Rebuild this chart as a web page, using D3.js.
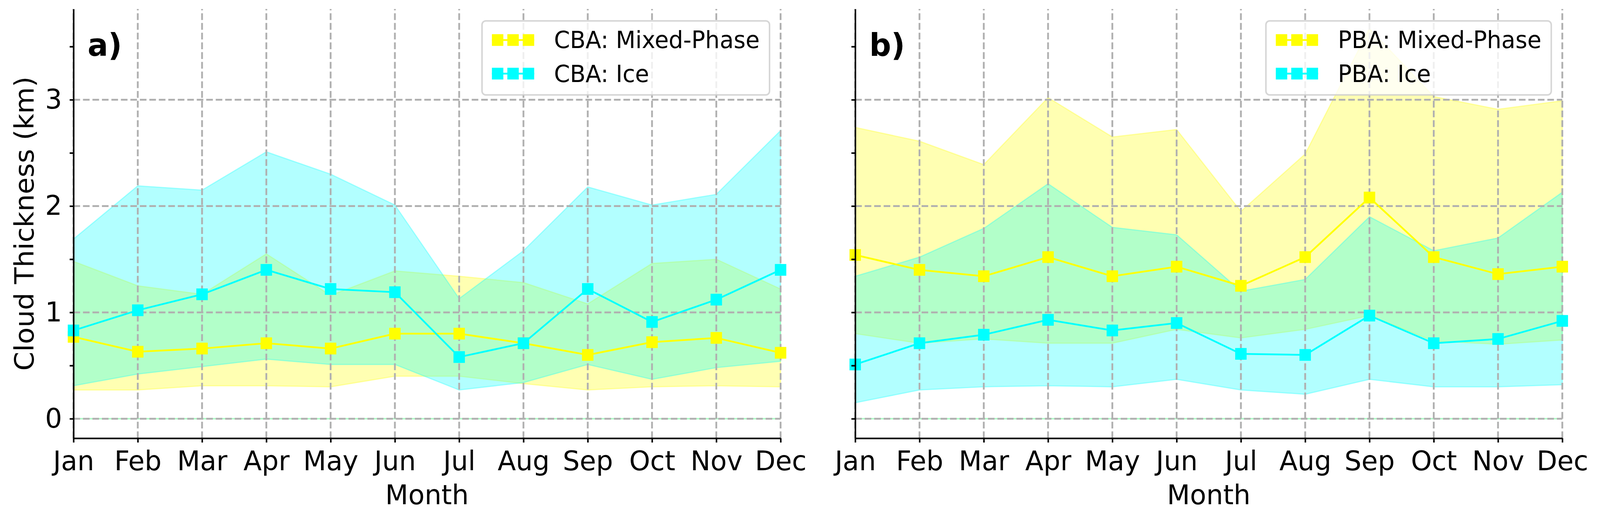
<!DOCTYPE html>
<html>
<head>
<meta charset="utf-8">
<script src="https://cdn.jsdelivr.net/npm/d3@7"></script>
<style>
html, body { margin: 0; padding: 0; width: 100%; height: 100%; overflow: hidden; background: #fff; }
#chart { display: block; width: 100vw; height: 100vh; }
svg text { font-family: "DejaVu Sans", sans-serif; }
</style>
</head>
<body>
<svg id="chart" viewBox="0 0 4202 1316" preserveAspectRatio="none"></svg>
<script>
var months = ["Jan", "Feb", "Mar", "Apr", "May", "Jun", "Jul", "Aug", "Sep", "Oct", "Nov", "Dec"];

// panel a) CBA
var cbaMixedMean = [0.77, 0.63, 0.66, 0.71, 0.66, 0.80, 0.80, 0.71, 0.60, 0.72, 0.76, 0.62];
var cbaMixedLow  = [0.27, 0.27, 0.31, 0.31, 0.30, 0.40, 0.40, 0.33, 0.27, 0.30, 0.31, 0.30];
var cbaMixedHigh = [1.48, 1.25, 1.17, 1.55, 1.16, 1.39, 1.34, 1.28, 1.08, 1.46, 1.50, 1.22];
var cbaIceMean   = [0.83, 1.02, 1.17, 1.40, 1.22, 1.19, 0.58, 0.71, 1.22, 0.91, 1.12, 1.40];
var cbaIceLow    = [0.31, 0.42, 0.49, 0.56, 0.51, 0.51, 0.27, 0.34, 0.51, 0.37, 0.48, 0.54];
var cbaIceHigh   = [1.69, 2.19, 2.15, 2.51, 2.30, 2.01, 1.13, 1.58, 2.18, 2.01, 2.11, 2.71];

// panel b) PBA
var pbaMixedMean = [1.54, 1.40, 1.34, 1.52, 1.34, 1.43, 1.25, 1.52, 2.08, 1.52, 1.36, 1.43];
var pbaMixedLow  = [0.80, 0.71, 0.75, 0.71, 0.71, 0.84, 0.76, 0.84, 0.97, 0.73, 0.70, 0.74];
var pbaMixedHigh = [2.74, 2.61, 2.39, 3.02, 2.65, 2.72, 1.95, 2.49, 3.67, 3.03, 2.91, 2.99];
var pbaIceMean   = [0.51, 0.71, 0.79, 0.93, 0.83, 0.90, 0.61, 0.60, 0.97, 0.71, 0.75, 0.92];
var pbaIceLow    = [0.15, 0.27, 0.30, 0.31, 0.30, 0.37, 0.27, 0.23, 0.37, 0.30, 0.30, 0.32];
var pbaIceHigh   = [1.34, 1.52, 1.79, 2.21, 1.80, 1.73, 1.20, 1.31, 1.90, 1.58, 1.70, 2.13];

var yTicks = [0, 0.5, 1, 1.5, 2, 2.5, 3, 3.5];
var yGrid = [0, 1, 2, 3];

var svg = d3.select("#chart");
var plotTop = 23, plotBottom = 1122;

// shared y, matplotlib-like 5% margins around the data (incl. zero baseline)
var allVals = [].concat(cbaMixedHigh, cbaIceHigh, pbaMixedHigh, pbaIceHigh, [0]);
var yMin = d3.min(allVals), yMax = d3.max(allVals), pad = 0.05 * (yMax - yMin);
var y = d3.scaleLinear()
    .domain([yMin - pad, yMax + pad])
    .range([plotBottom, plotTop]);

var gridColor = "#b0b0b0";

function drawPanel(p) {
    var x = d3.scalePoint().domain(months).range([p.left, p.right]);
    var g = svg.append("g");

    var area = d3.area()
        .x(function (d, i) { return x(months[i]); })
        .y0(function (d) { return y(d[0]); })
        .y1(function (d) { return y(d[1]); });

    // shaded ranges
    p.series.forEach(function (s) {
        g.append("path")
            .datum(d3.zip(s.low, s.high))
            .attr("d", area)
            .attr("fill", s.color)
            .attr("fill-opacity", 0.3)
            .attr("stroke", s.color)
            .attr("stroke-opacity", 0.3)
            .attr("stroke-width", 3);
    });

    // faint baseline at zero
    p.series.forEach(function (s) {
        g.append("line")
            .attr("x1", p.left).attr("x2", p.right)
            .attr("y1", y(0)).attr("y2", y(0))
            .attr("stroke", s.color)
            .attr("stroke-opacity", 0.3)
            .attr("stroke-width", 4);
    });

    // grid
    g.append("g").selectAll("line")
        .data(months)
        .join("line")
        .attr("x1", function (d) { return x(d); })
        .attr("x2", function (d) { return x(d); })
        .attr("y1", plotBottom)
        .attr("y2", plotTop)
        .attr("stroke", gridColor)
        .attr("stroke-width", 4.7)
        .attr("stroke-dasharray", "17.4,7.5");

    g.append("g").selectAll("line")
        .data(yGrid)
        .join("line")
        .attr("x1", p.left)
        .attr("x2", p.right)
        .attr("y1", function (d) { return y(d); })
        .attr("y2", function (d) { return y(d); })
        .attr("stroke", gridColor)
        .attr("stroke-width", 4.7)
        .attr("stroke-dasharray", "17.4,7.5");

    // mean lines with square markers
    var line = d3.line()
        .x(function (d, i) { return x(months[i]); })
        .y(function (d) { return y(d); });

    p.series.forEach(function (s) {
        g.append("path")
            .datum(s.mean)
            .attr("d", line)
            .attr("fill", "none")
            .attr("stroke", s.color)
            .attr("stroke-width", 4.5);

        g.append("g").selectAll("rect")
            .data(s.mean)
            .join("rect")
            .attr("x", function (d, i) { return x(months[i]) - 15; })
            .attr("y", function (d) { return y(d) - 15; })
            .attr("width", 30)
            .attr("height", 30)
            .attr("fill", s.color);
    });

    // axes
    var xAxis = g.append("g")
        .attr("transform", "translate(0," + plotBottom + ")")
        .call(d3.axisBottom(x).tickSize(11).tickPadding(21).tickSizeOuter(0));

    var yAxis = g.append("g")
        .attr("transform", "translate(" + p.left + ",0)")
        .call(d3.axisLeft(y)
            .tickValues(yTicks)
            .tickFormat(function (d) { return (p.yLabels && Number.isInteger(d)) ? d : ""; })
            .tickSize(10).tickPadding(20).tickSizeOuter(0));

    [xAxis, yAxis].forEach(function (ax) {
        ax.attr("font-size", 70).attr("font-family", "DejaVu Sans");
        ax.select(".domain").attr("stroke-width", 4);
        ax.selectAll(".tick line").attr("stroke-width", 4);
        ax.selectAll(".tick text").attr("fill", "#000");
    });

    // x label
    g.append("text")
        .attr("x", (p.left + p.right) / 2)
        .attr("y", 1291)
        .attr("text-anchor", "middle")
        .style("font-size", "70px")
        .text("Month");

    if (p.yLabels) {
        g.append("text")
            .attr("transform", "translate(88," + ((plotTop + plotBottom) / 2) + ") rotate(-90)")
            .attr("text-anchor", "middle")
            .style("font-size", "70px")
            .text("Cloud Thickness (km)");
    }

    // panel tag
    g.append("text")
        .attr("x", p.left + 37)
        .attr("y", 143)
        .style("font-size", "80px")
        .style("font-weight", "bold")
        .text(p.tag);

    // legend
    var leg = g.append("g");
    var box = leg.append("rect");
    var widest = 0;
    p.series.forEach(function (s, i) {
        var row = leg.append("g").attr("transform", "translate(0," + (49 + i * 86) + ")");
        row.append("line")
            .attr("x1", 26).attr("x2", 137)
            .attr("stroke", s.color).attr("stroke-width", 4.5);
        [15, 55.5, 96].forEach(function (cx) {
            row.append("rect")
                .attr("x", 26 + cx - 15).attr("y", -15)
                .attr("width", 30).attr("height", 30)
                .attr("fill", s.color);
        });
        var t = leg.append("text")
            .attr("x", 189)
            .attr("y", 70 + i * 87)
            .style("font-size", "60px")
            .text(s.name);
        widest = Math.max(widest, t.node().getComputedTextLength());
    });
    var boxW = 189 + widest + 26, boxH = 189.5;
    box.attr("width", boxW).attr("height", boxH)
        .attr("rx", 10).attr("ry", 10)
        .attr("fill", "#fff").attr("fill-opacity", 0.8)
        .attr("stroke", "#cccccc").attr("stroke-opacity", 0.8)
        .attr("stroke-width", 4);
    leg.attr("transform", "translate(" + (p.right - 29 - boxW) + "," + (plotTop + 30.5) + ")");
}

drawPanel({
    left: 193, right: 2050, tag: "a)", yLabels: true,
    series: [
        { name: "CBA: Mixed-Phase", color: "#ffff00", mean: cbaMixedMean, low: cbaMixedLow, high: cbaMixedHigh },
        { name: "CBA: Ice", color: "#00ffff", mean: cbaIceMean, low: cbaIceLow, high: cbaIceHigh }
    ]
});

drawPanel({
    left: 2246, right: 4103, tag: "b)", yLabels: false,
    series: [
        { name: "PBA: Mixed-Phase", color: "#ffff00", mean: pbaMixedMean, low: pbaMixedLow, high: pbaMixedHigh },
        { name: "PBA: Ice", color: "#00ffff", mean: pbaIceMean, low: pbaIceLow, high: pbaIceHigh }
    ]
});
</script>
</body>
</html>
